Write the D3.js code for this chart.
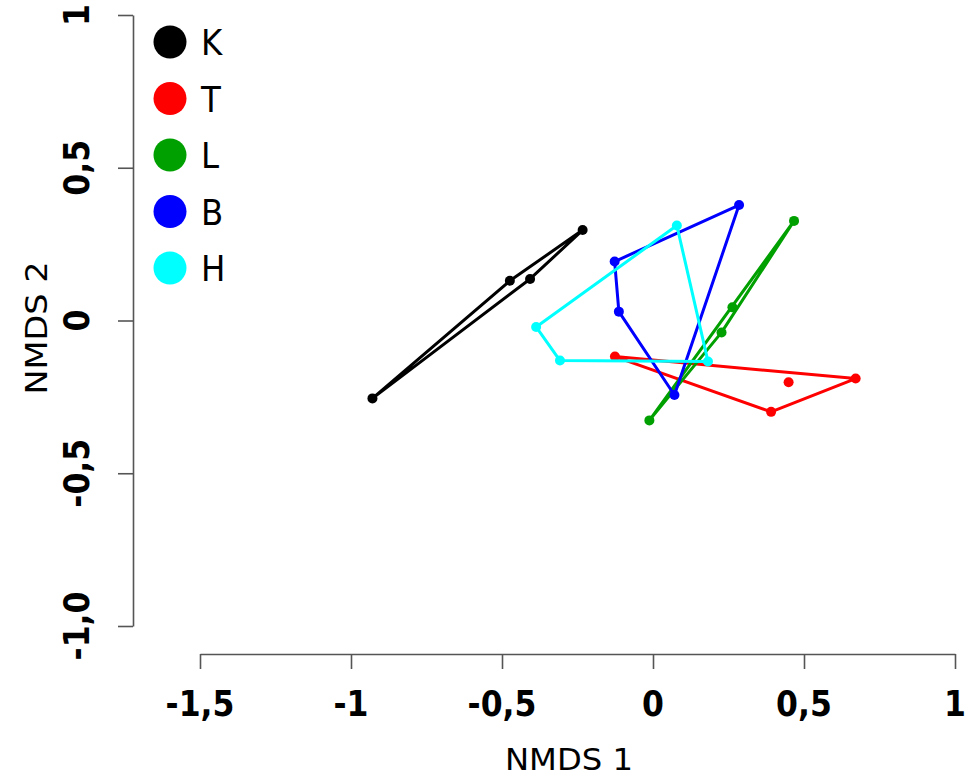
<!DOCTYPE html>
<html>
<head>
<meta charset="utf-8">
<script src="https://cdn.jsdelivr.net/npm/d3@7"></script>
<style>
  html, body { margin: 0; padding: 0; background: #fff; }
  svg { display: block; }
</style>
</head>
<body>
<svg id="chart" width="969" height="779"></svg>
<script>
// ---- data ----
const groups = ["K", "T", "L", "B", "H"];
const colors = ["#000000", "#ff0000", "#00a000", "#0000ff", "#00ffff"];
const K_x = [-0.929, -0.474, -0.407, -0.233];
const K_y = [-0.255, 0.130, 0.136, 0.296];
const T_x = [-0.126, 0.449, 0.671, 0.391];
const T_y = [-0.118, -0.202, -0.190, -0.299];
const L_x = [-0.012, 0.227, 0.263, 0.467];
const L_y = [-0.327, -0.039, 0.043, 0.326];
const B_x = [-0.127, -0.113, 0.071, 0.285];
const B_y = [0.193, 0.029, -0.244, 0.378];
const H_x = [-0.387, -0.308, 0.079, 0.182];
const H_y = [-0.021, -0.131, 0.311, -0.134];
const xTicks = [-1.5, -1, -0.5, 0, 0.5, 1];
const xTickLabels = ["-1,5", "-1", "-0,5", "0", "0,5", "1"];
const yTicks = [-1, -0.5, 0, 0.5, 1];
const yTickLabels = ["-1,0", "-0,5", "0", "0,5", "1"];
const xTitle = "NMDS 1";
const yTitle = "NMDS 2";

const series = [
  {name: "K", xs: K_x, ys: K_y},
  {name: "T", xs: T_x, ys: T_y},
  {name: "L", xs: L_x, ys: L_y},
  {name: "B", xs: B_x, ys: B_y},
  {name: "H", xs: H_x, ys: H_y}
];

// ---- layout ----
const svg = d3.select("#chart");
const x = d3.scaleLinear().domain([-1.5, 1]).range([200, 955]);
const y = d3.scaleLinear().domain([-1, 1]).range([626, 15]);
const color = d3.scaleOrdinal().domain(groups).range(colors);
const axisColor = "#555555";
const tickFont = "'DejaVu Sans Condensed', 'DejaVu Sans', sans-serif";

// x axis
const gx = svg.append("g").attr("transform", "translate(0,654)")
  .call(d3.axisBottom(x).tickValues(xTicks).tickSize(15).tickSizeOuter(0).tickFormat(""));
gx.selectAll("path, line").attr("stroke", axisColor).attr("stroke-width", 1.6);

svg.append("g").selectAll("text").data(xTicks).join("text")
  .attr("x", d => x(d)).attr("y", 716)
  .attr("text-anchor", "middle")
  .attr("font-family", tickFont).attr("font-weight", "bold")
  .attr("font-size", 35).attr("fill", "#000")
  .text((d, i) => xTickLabels[i]);

// y axis
const gy = svg.append("g").attr("transform", "translate(133,0)")
  .call(d3.axisLeft(y).tickValues(yTicks).tickSize(15).tickSizeOuter(0).tickFormat(""));
gy.selectAll("path, line").attr("stroke", axisColor).attr("stroke-width", 1.6);

svg.append("g").selectAll("text").data(yTicks).join("text")
  .attr("transform", d => `translate(89,${y(d)}) rotate(-90)`)
  .attr("text-anchor", "middle")
  .attr("font-family", tickFont).attr("font-weight", "bold")
  .attr("font-size", 35).attr("fill", "#000")
  .text((d, i) => yTickLabels[i]);

// titles
svg.append("text").attr("x", 569).attr("y", 770)
  .attr("text-anchor", "middle")
  .attr("font-family", tickFont).attr("font-size", 31)
  .attr("textLength", 128).attr("lengthAdjust", "spacingAndGlyphs")
  .text(xTitle);
svg.append("text").attr("transform", "translate(47,328) rotate(-90)")
  .attr("text-anchor", "middle")
  .attr("font-family", tickFont).attr("font-size", 31)
  .attr("textLength", 133).attr("lengthAdjust", "spacingAndGlyphs")
  .text(yTitle);

// hulls and points
series.forEach(s => {
  const pts = s.xs.map((v, i) => [x(v), y(s.ys[i])]);
  const hull = d3.polygonHull(pts);
  const g = svg.append("g");
  g.append("path")
    .attr("d", "M" + hull.map(p => p.join(",")).join("L") + "Z")
    .attr("fill", "none").attr("stroke", color(s.name))
    .attr("stroke-width", 3).attr("stroke-linejoin", "round");
  g.selectAll("circle").data(pts).join("circle")
    .attr("cx", p => p[0]).attr("cy", p => p[1]).attr("r", 5)
    .attr("fill", color(s.name));
});

// legend
const leg = svg.append("g");
const legY = d3.scalePoint().domain(groups).range([42, 268]);
leg.selectAll("circle").data(groups).join("circle")
  .attr("cx", 170).attr("cy", d => legY(d)).attr("r", 16.5)
  .attr("fill", d => color(d));
leg.selectAll("text").data(groups).join("text")
  .attr("x", 201).attr("y", d => legY(d) + 13)
  .attr("font-family", tickFont).attr("font-size", 36)
  .attr("fill", "#000")
  .text(d => d);
</script>
</body>
</html>
